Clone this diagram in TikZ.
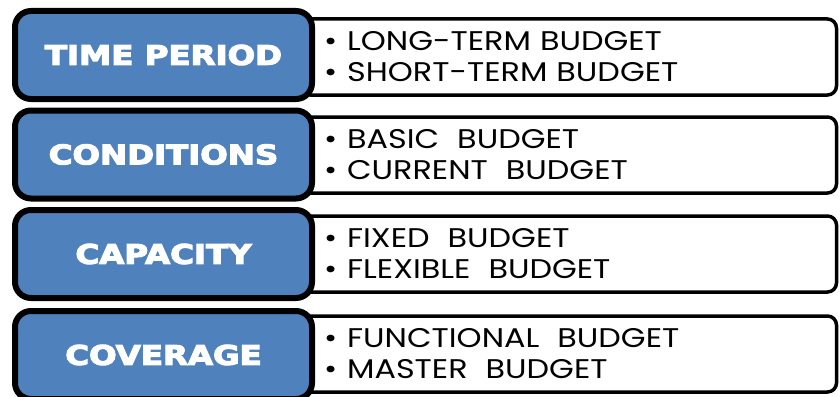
\documentclass[tikz,border=0pt]{standalone}
\usepackage{fontspec}
\usepackage{graphicx}
\setmainfont{Poppins}[FakeStretch=1.18]
\newfontfamily\headfont{DejaVu Sans Bold}[FakeBold=4]

\definecolor{catblue}{RGB}{79,129,189}

\newcommand{\budgetitem}[1]{\textbullet\hspace{10pt}#1}

\begin{document}
\begin{tikzpicture}[x=1pt, y=-1pt,
	cat/.style={draw=black, line width=6pt, fill=catblue, rounded corners=16pt,
		minimum width=297pt, minimum height=88pt, text=white,
		font=\headfont\fontsize{27}{27}\selectfont},
	list/.style={draw=black, line width=3.5pt, fill=white, rounded corners=9pt,
		minimum width=535pt, minimum height=76pt, text width=490pt, align=left,
		inner xsep=22pt, font=\fontsize{27}{31}\selectfont}]
	\useasboundingbox (0,0) rectangle (840,396);

	% lists first, the blue boxes lie over their left ends
	\node[list] (time-list) at (569,57) {\budgetitem{LONG-TERM BUDGET}\\\budgetitem{SHORT-TERM BUDGET}};
	\node[list] (cond-list) at (569,155) {\budgetitem{BASIC\ \ BUDGET}\\\budgetitem{CURRENT\ \ BUDGET}};
	\node[list] (cap-list) at (569,254) {\budgetitem{FIXED\ \ BUDGET}\\\budgetitem{FLEXIBLE\ \ BUDGET}};
	\node[list] (cov-list) at (569,354) {\budgetitem{FUNCTIONAL\ \ BUDGET}\\\budgetitem{MASTER\ \ BUDGET}};

	\node[cat] (time) at (163.5,55) {\scalebox{1.2}[1]{TIME PERIOD}};
	\node[cat] (cond) at (163.5,154.5) {\scalebox{1.2}[1]{CONDITIONS}};
	\node[cat] (cap) at (163.5,254) {\scalebox{1.2}[1]{CAPACITY}};
	\node[cat] (cov) at (163.5,355) {\scalebox{1.2}[1]{COVERAGE}};
\end{tikzpicture}
\end{document}
